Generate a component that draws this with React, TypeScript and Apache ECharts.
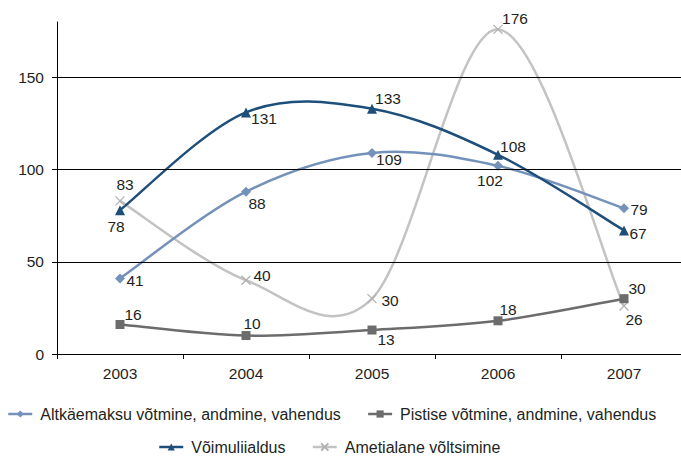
import React, { useEffect, useRef } from "react";
import * as echarts from "echarts";

const categories = ["2003", "2004", "2005", "2006", "2007"];
const altkaemaksu = [41, 88, 109, 102, 79];
const pistise = [16, 10, 13, 18, 30];
const voimuliialdus = [78, 131, 133, 108, 67];
const ametialane = [83, 40, 30, 176, 26];
const yTicks = [0, 50, 100, 150];
const gridLines = [50, 100, 150];

const names = [
  "Altkäemaksu võtmine, andmine, vahendus",
  "Pistise võtmine, andmine, vahendus",
  "Võimuliialdus",
  "Ametialane võltsimine",
];

// label offsets (label centre relative to point)
const altkOff = [[15, 2], [11, 12], [17, 7], [-8, 15], [15, 1]];
const pistOff = [[13, -10], [6, -12], [14, 9], [10, -11], [13, -10]];
const voimOff = [[-4, 16], [18, 6], [16, -10], [15, -8], [14, 3]];
const ametOff = [[5, -16], [16, -5], [18, 2], [17, -11], [10, 13]];

const FONT = "Liberation Sans, Arial, Helvetica, sans-serif";
const TEXT = "#231F20";
const FS = 15.5;

function withLabels(values: number[], offs: number[][]) {
  return values.map((v, i) => ({
    value: v,
    label: { offset: offs[i] },
  }));
}

// Catmull-Rom style smoothed curve (spreadsheet-like smoothing)
function curveSeries(id: string, values: number[], color: string, z: number) {
  return {
    name: id,
    type: "custom",
    coordinateSystem: "cartesian2d",
    clip: false,
    silent: true,
    z,
    data: values.map((v, i) => [i, v]),
    renderItem: (params: any, api: any) => {
      const i = params.dataIndex;
      const n = values.length;
      if (i >= n - 1) return { type: "group", children: [] };
      const pts = values.map((v, k) => api.coord([k, v]));
      const p0 = pts[Math.max(i - 1, 0)];
      const p1 = pts[i];
      const p2 = pts[i + 1];
      const p3 = pts[Math.min(i + 2, n - 1)];
      return {
        type: "bezierCurve",
        shape: {
          x1: p1[0],
          y1: p1[1],
          cpx1: p1[0] + (p2[0] - p0[0]) / 6,
          cpy1: p1[1] + (p2[1] - p0[1]) / 6,
          cpx2: p2[0] - (p3[0] - p1[0]) / 6,
          cpy2: p2[1] - (p3[1] - p1[1]) / 6,
          x2: p2[0],
          y2: p2[1],
        },
        style: { stroke: color, lineWidth: 2.5, fill: null },
      };
    },
  };
}

export default function App() {
  const ref = useRef<HTMLDivElement>(null);
  useEffect(() => {
    document.body.style.margin = "0";
    document.body.style.overflow = "hidden";
    document.documentElement.style.overflow = "hidden";
    const chart = echarts.init(ref.current!, undefined, { renderer: "svg" });
    const labelBase = {
      show: true,
      position: "inside",
      align: "center",
      verticalAlign: "middle",
      color: TEXT,
      fontSize: FS,
      fontFamily: FONT,
    };
    const mk = (
      name: string,
      data: any[],
      color: string,
      symbol: string,
      symbolSize: number,
      extra: any = {}
    ) => ({
      name,
      type: "line",
      data,
      symbol,
      symbolSize,
      showAllSymbol: true,
      itemStyle: { color },
      lineStyle: { color, width: 2.5, opacity: 0 },
      label: labelBase,
      z: 4,
      ...extra,
    });
    const legendBase = {
      padding: 0,
      itemWidth: 24,
      itemHeight: 9,
      itemGap: 26,
      lineStyle: { opacity: 1, width: 2.5 },
      textStyle: { color: TEXT, fontSize: 16, fontFamily: FONT, padding: [0, 0, 0, 3] },
    };
    chart.setOption({
      animation: false,
      backgroundColor: "#ffffff",
      textStyle: { fontFamily: FONT },
      grid: { left: 57, width: 630, top: 22, bottom: 103, containLabel: false },
      xAxis: {
        type: "category",
        data: categories,
        boundaryGap: true,
        axisLine: { show: true, lineStyle: { color: "#000", width: 1 } },
        axisTick: { show: true, length: 5, lineStyle: { color: "#000" } },
        axisLabel: { color: TEXT, fontSize: FS, fontFamily: FONT, margin: 11 },
        splitLine: { show: false },
      },
      yAxis: {
        type: "value",
        min: 0,
        max: 180,
        interval: 50,
        axisLine: { show: true, lineStyle: { color: "#000", width: 1 } },
        axisTick: {
          show: true,
          length: 5,
          customValues: yTicks,
          lineStyle: { color: "#000" },
        },
        axisLabel: {
          color: TEXT,
          fontSize: FS,
          fontFamily: FONT,
          margin: 13,
          customValues: yTicks,
        },
        splitLine: { show: false },
      },
      legend: [
        { ...legendBase, data: [names[0], names[1]], left: 7, top: 406 },
        { ...legendBase, data: [names[2], names[3]], left: 158, top: 439 },
      ],
      series: [
        curveSeries("c_amet", ametialane, "#C3C3C3", 2),
        curveSeries("c_altk", altkaemaksu, "#7491B9", 3),
        curveSeries("c_pist", pistise, "#6C6C6C", 3),
        curveSeries("c_voim", voimuliialdus, "#1D4F7A", 3),
        mk(names[3], withLabels(ametialane, ametOff), "#C3C3C3", "path://M0,0L10,10M10,0L0,10", 9, {
          itemStyle: { color: "#C3C3C3", borderColor: "#B0B0B0", borderWidth: 1.2 },
        }),
        mk(names[0], withLabels(altkaemaksu, altkOff), "#7491B9", "diamond", 10),
        mk(names[1], withLabels(pistise, pistOff), "#6C6C6C", "rect", 9),
        mk(names[2], withLabels(voimuliialdus, voimOff), "#1D4F7A", "triangle", 10, {
          markLine: {
            silent: true,
            symbol: "none",
            label: { show: false },
            lineStyle: { color: "#000", width: 1, type: "solid", opacity: 1 },
            data: gridLines.map((v) => ({ yAxis: v })),
          },
        }),
      ],
    });
    return () => chart.dispose();
  }, []);
  return <div ref={ref} style={{ width: 690, height: 457 }} />;
}
